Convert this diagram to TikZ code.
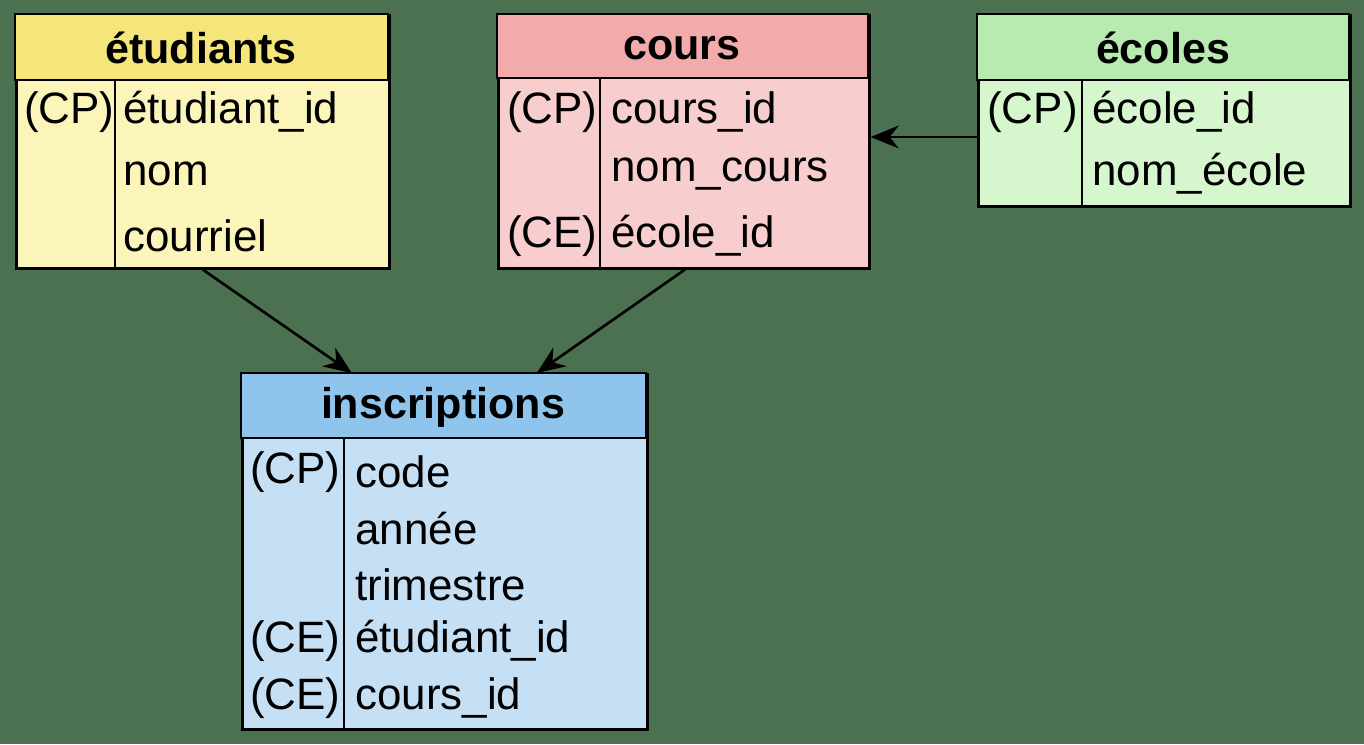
\documentclass[tikz,border=0pt]{standalone}
\usepackage{fontspec}
\setmainfont{Liberation Sans}
\usetikzlibrary{arrows.meta, positioning, calc}
\definecolor{bgreen}{HTML}{4B7150}
\definecolor{yelhead}{HTML}{F5E67C}
\definecolor{yelbody}{HTML}{FBF5B9}
\definecolor{redhead}{HTML}{F2AAAA}
\definecolor{redbody}{HTML}{F8CDCD}
\definecolor{grnhead}{HTML}{B8EBB0}
\definecolor{grnbody}{HTML}{D6F6CD}
\definecolor{bluhead}{HTML}{8FC4EC}
\definecolor{blubody}{HTML}{C5DFF5}
\tikzset{
  table/.style={draw=black, line width=1.5pt, anchor=north west, inner sep=0pt},
  field/.style={font=\fontsize{25}{28}\selectfont, anchor=west, inner sep=0pt},
  title/.style={font=\fontsize{24.5}{28}\selectfont\bfseries, inner sep=0pt},
  link/.style={-{Stealth[length=16pt, width=13pt]}, line width=1.5pt}
}
\begin{document}
\begin{tikzpicture}[x=0.02cm, y=-0.02cm]
  \fill[bgreen] (0,0) rectangle (1364,744);
  \useasboundingbox (0,0) rectangle (1364,744);

  % table boxes
  \node[table, fill=yelbody, minimum width=373*0.02cm, minimum height=253*0.02cm] (etu) at (15,14) {};
  \node[table, fill=redbody, minimum width=371*0.02cm, minimum height=253*0.02cm] (cours) at (497,14) {};
  \node[table, fill=grnbody, minimum width=372*0.02cm, minimum height=191*0.02cm] (ecoles) at (977,14) {};
  \node[table, fill=blubody, minimum width=405*0.02cm, minimum height=355*0.02cm] (ins) at (241,373) {};

  % headers and dividers
  \filldraw[fill=yelhead, line width=1.5pt] (15,14) rectangle (388,80);
  \filldraw[fill=redhead, line width=1.5pt] (497,14) rectangle (868,78);
  \filldraw[fill=grnhead, line width=1.5pt] (977,14) rectangle (1349,80);
  \filldraw[fill=bluhead, line width=1.5pt] (241,373) rectangle (646,438);
  \draw[line width=1.5pt] (115,80) -- (115,267);
  \draw[line width=1.5pt] (600,78) -- (600,267);
  \draw[line width=1.5pt] (1082,80) -- (1082,205);
  \draw[line width=1.5pt] (344,438) -- (344,728);

  \node[title] (tetu) at (201,48) {étudiants};
  \node[title] (tcours) at (682,48) {cours};
  \node[title] (tecoles) at (1163,48) {écoles};
  \node[title] (tins) at (443,407) {inscriptions};

  % fields
  \foreach \y/\k/\f in {112/(CP)/étudiant\_id, 174//nom, 236//courriel}
    {\node[field] at (24,\y) {\k}; \node[field] at (123,\y) {\f};}
  \foreach \y/\k/\f in {112/(CP)/cours\_id, 174//nom\_cours, 236/(CE)/école\_id}
    {\node[field] at (507,\y) {\k}; \node[field] at (611,\y) {\f};}
  \foreach \y/\k/\f in {112/(CP)/école\_id, 174//nom\_école}
    {\node[field] at (987,\y) {\k}; \node[field] at (1092,\y) {\f};}
  \foreach \y/\k/\f in {472/(CP)/code, 529//année, 585//trimestre, 641/(CE)/étudiant\_id, 698/(CE)/cours\_id}
    {\node[field] at (250,\y) {\k}; \node[field] at (355,\y) {\f};}

  % links
  \draw[link] (etu.south) -- ($(ins.north)+(-93,0)$);
  \draw[link] ($(cours.south)+(1,0)$) -- ($(ins.north)+(92,0)$);
  \draw[link] (ecoles.west |- 0,137) -- (cours.east |- 0,137);
\end{tikzpicture}
\end{document}
